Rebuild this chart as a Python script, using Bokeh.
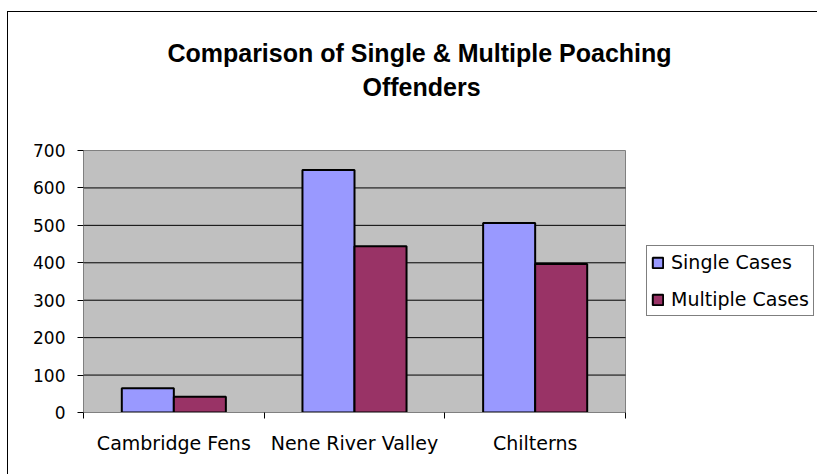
from bokeh.plotting import figure
from bokeh.models import (Range1d, FixedTicker, Label, Legend, LegendItem,
                          ColumnDataSource, InlineStyleSheet)
from bokeh.transform import dodge
from bokeh.embed import file_html
from bokeh.resources import INLINE

# ---- data ----
categories = ["Cambridge Fens", "Nene River Valley", "Chilterns"]
single_cases = [65, 648, 506]
multiple_cases = [42, 444, 397]
series_names = ["Single Cases", "Multiple Cases"]
y_ticks = [0, 100, 200, 300, 400, 500, 600, 700]
title_lines = ["Comparison of Single & Multiple Poaching", "Offenders"]

# ---- layout geometry (pixels) ----
W, H = 817, 474
FL, FB = 83, 412            # plot-area left / bottom (= frame left / bottom)
PR, PT = 625, 150           # plot-area right / top
n = len(categories)
ymax = y_ticks[-1]
x_end = n * (W - FL) / (PR - FL)        # frame extends to the canvas right edge
y_end = ymax * FB / (FB - PT)           # frame extends to the canvas top edge

def px_to_x(px):
    return (px - FL) * n / (PR - FL)

def py_to_y(py):
    return (FB - py) * ymax / (FB - PT)

pos = [i + 0.5 for i in range(n)]
bounds = [float(i) for i in range(n + 1)]
source = ColumnDataSource(dict(pos=pos, cat=categories,
                               single=single_cases, multiple=multiple_cases))
grid_src = ColumnDataSource(dict(y=y_ticks[1:-1]))

p = figure(width=W, height=H, output_backend="svg", toolbar_location=None,
           x_range=Range1d(0, x_end), y_range=Range1d(0, y_end),
           min_border_left=FL, min_border_right=0,
           min_border_top=0, min_border_bottom=H - FB)
p.background_fill_color = "white"
p.border_fill_color = "white"
p.outline_line_color = None
p.grid.visible = False

# outer chart border (left and top edges visible in the reference)
p.stylesheets = [InlineStyleSheet(css="""
:host::after { content: ""; position: absolute; left: 7px; top: 11px;
  right: 0px; bottom: 0px; border-left: 1px solid #000; border-top: 1px solid #000;
  pointer-events: none; z-index: 5; }
""")]

# plot area background and gridlines, limited to the category/value extent
p.quad(left=0, right=n, bottom=0, top=ymax, fill_color="#C0C0C0",
       line_color="#808080", line_width=1)
p.segment(x0=0, x1=n, y0='y', y1='y', source=grid_src, line_color="black", line_width=1)

bw = 0.288
r1 = p.vbar(x=dodge('pos', -bw / 2), top='single', width=bw, source=source,
            fill_color="#9999FF", line_color="black", line_width=2)
r2 = p.vbar(x=dodge('pos', bw / 2), top='multiple', width=bw, source=source,
            fill_color="#993366", line_color="black", line_width=2)

# x axis
xa = p.xaxis[0]
xa.bounds = (0, n)
xa.ticker = FixedTicker(ticks=pos, minor_ticks=bounds)
xa.major_label_overrides = {x: c for x, c in zip(pos, categories)}
xa.axis_line_color = "#808080"
xa.major_tick_line_color = None
xa.major_tick_out = 0
xa.major_tick_in = 0
xa.minor_tick_line_color = "black"
xa.minor_tick_out = 6
xa.minor_tick_in = 0
xa.major_label_standoff = 13
xa.major_label_text_font = "DejaVu Sans"
xa.major_label_text_font_size = "19px"
xa.major_label_text_color = "black"

# y axis
ya = p.yaxis[0]
ya.bounds = (0, ymax)
ya.ticker = FixedTicker(ticks=y_ticks)
ya.axis_line_color = "#808080"
ya.major_tick_line_color = "black"
ya.major_tick_out = 6
ya.major_tick_in = 0
ya.minor_tick_line_color = None
ya.major_label_standoff = 12
ya.major_label_text_font = "DejaVu Sans"
ya.major_label_text_font_size = "17px"
ya.major_label_text_color = "black"

# title (two centred lines)
for text, cx, by in zip(title_lines, [419, 421], [52, 86]):
    p.add_layout(Label(x=px_to_x(cx), y=py_to_y(by), text=text,
                       text_align="center", text_baseline="alphabetic",
                       text_font="Liberation Sans", text_font_style="bold",
                       text_font_size="25px", text_color="black"))

legend = Legend(items=[LegendItem(label=series_names[0], renderers=[r1]),
                       LegendItem(label=series_names[1], renderers=[r2])],
                location=(646 - FL, FB - 316), margin=0, padding=4, spacing=13,
                glyph_width=13, glyph_height=13, label_standoff=7, label_height=24,
                label_text_font="DejaVu Sans", label_text_font_size="19px",
                label_text_color="black",
                border_line_color="black", border_line_width=1,
                background_fill_color="white", background_fill_alpha=1)
p.add_layout(legend, "center")

open("out.html", "w").write(file_html(p, INLINE))
